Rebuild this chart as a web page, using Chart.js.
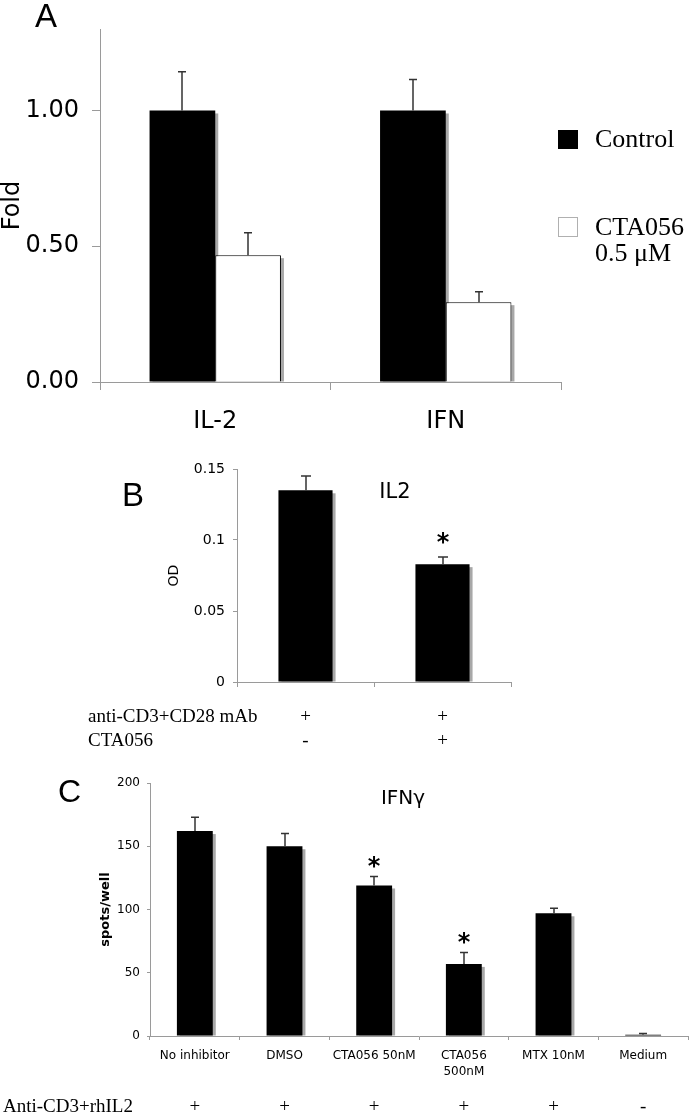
<!DOCTYPE html>
<html>
<head>
<meta charset="utf-8">
<script src="https://cdn.jsdelivr.net/npm/chart.js@4.4.0/dist/chart.umd.min.js"></script>
<style>
  body { margin: 0; background: #fff; }
  #wrap { position: relative; width: 689px; height: 1115px; overflow: hidden; background: #fff; }
  canvas { position: absolute; left: 0; }
</style>
</head>
<body>
<div id="wrap">
  <canvas id="chartA" width="689" height="440" style="top:0px"></canvas>
  <canvas id="chartB" width="689" height="320" style="top:440px"></canvas>
  <canvas id="chartC" width="689" height="355" style="top:760px"></canvas>
</div>
<script>
// --- panel A: fold change
const aLabels = ['IL-2', 'IFN'];
const aControl = [1.00, 1.00];
const aControlErr = [0.143, 0.114];
const aCta = [0.467, 0.294];
const aCtaErr = [0.083, 0.038];
const aTicks = [0, 0.5, 1.0];

// --- panel B: IL2 OD
const bRowAnti = ['+', '+'];
const bRowCta = ['-', '+'];
const bValues = [0.135, 0.083];
const bErr = [0.010, 0.005];
const bStars = [false, true];
const bTicks = [0, 0.05, 0.1, 0.15];

// --- panel C: IFN-gamma spots
const cLabels = ['No inhibitor', 'DMSO', 'CTA056 50nM', ['CTA056', '500nM'], 'MTX 10nM', 'Medium'];
const cRowAnti = ['+', '+', '+', '+', '+', '-'];
const cValues = [162, 150, 119, 57, 97, 1];
const cErr = [11, 10, 7, 9, 4, 1];
const cStars = [false, false, true, true, false, false];
const cTicks = [0, 50, 100, 150, 200];

const SANS = "'DejaVu Sans', sans-serif";
const ARIAL = "'Liberation Sans', Arial, sans-serif";
const SERIF = "'Liberation Serif', 'Times New Roman', serif";
const AXIS = '#9a9a9a';

// grey drop shadow behind each bar
const shadowPlugin = {
  id: 'shadow',
  beforeDatasetsDraw(chart) {
    const ctx = chart.ctx;
    ctx.save();
    ctx.fillStyle = '#a8a8a8';
    chart.data.datasets.forEach((ds, i) => {
      chart.getDatasetMeta(i).data.forEach(bar => {
        const p = bar.getProps(['x', 'y', 'base', 'width'], true);
        const h = p.base - p.y - 3;
        if (h > 0) ctx.fillRect(p.x - p.width / 2 + 3, p.y + 3, p.width, h);
      });
    });
    ctx.restore();
  }
};

// upper error bars + significance stars
const errorPlugin = {
  id: 'errorBars',
  afterDatasetsDraw(chart, args, opts) {
    const ctx = chart.ctx;
    const y = chart.scales.y;
    ctx.save();
    ctx.strokeStyle = '#333';
    ctx.lineWidth = 1.5;
    chart.data.datasets.forEach((ds, i) => {
      chart.getDatasetMeta(i).data.forEach((bar, j) => {
        const top = y.getPixelForValue(ds.data[j] + ds.errors[j]);
        const x = Math.round(bar.x);
        ctx.beginPath();
        ctx.moveTo(x, bar.y);
        ctx.lineTo(x, top);
        ctx.moveTo(x - opts.cap / 2, top);
        ctx.lineTo(x + opts.cap / 2, top);
        ctx.stroke();
        if (ds.stars && ds.stars[j]) {
          ctx.fillStyle = '#000';
          ctx.font = 'bold 24px ' + SANS;
          ctx.textAlign = 'center';
          ctx.textBaseline = 'alphabetic';
          ctx.fillText('*', x, top - opts.starGap + 13);
        }
      });
    });
    ctx.restore();
  }
};

// free text / legend boxes, page coordinates shifted by the canvas top
const notesPlugin = {
  id: 'notes',
  afterDraw(chart, args, opts) {
    const ctx = chart.ctx;
    const dy = opts.top || 0;
    ctx.save();
    (opts.items || []).forEach(it => {
      if (it.box) {
        ctx.fillStyle = it.fill;
        ctx.fillRect(it.box[0], it.box[1] - dy, it.box[2], it.box[3]);
        if (it.stroke) {
          ctx.strokeStyle = it.stroke;
          ctx.lineWidth = 1;
          ctx.strokeRect(it.box[0] + 0.5, it.box[1] - dy + 0.5, it.box[2] - 1, it.box[3] - 1);
        }
        return;
      }
      ctx.fillStyle = '#000';
      ctx.font = it.font;
      ctx.textAlign = it.align || 'left';
      ctx.textBaseline = it.base || 'alphabetic';
      ctx.fillText(it.text, it.x, it.y - dy);
    });
    if (opts.row) {
      const xs = chart.scales.x;
      ctx.font = opts.row.font;
      ctx.textAlign = 'center';
      ctx.textBaseline = 'middle';
      opts.row.signs.forEach((s, i) => ctx.fillText(s, xs.getPixelForValue(i), opts.row.y - dy));
    }
    ctx.restore();
  }
};

function noPad(s) { s.paddingTop = 0; s.paddingBottom = 0; s.paddingLeft = 0; s.paddingRight = 0; }

function yAxis(max, ticks, o) {
  return {
    min: 0, max: max,
    afterBuildTicks: s => { s.ticks = ticks.map(v => ({ value: v })); },
    grid: { drawOnChartArea: false, color: AXIS, tickLength: o.tick },
    border: { color: AXIS },
    ticks: { color: '#000', font: { family: SANS, size: o.size }, padding: o.pad, callback: o.fmt },
    title: { display: true, text: o.title, color: '#000', padding: 0, font: o.titleFont },
    afterFit: s => { s.width = o.width; noPad(s); }
  };
}

function xAxis(o) {
  return {
    grid: { offset: true, drawOnChartArea: false, color: AXIS, tickLength: o.tick },
    border: { color: AXIS },
    ticks: { color: '#000', font: o.font, padding: o.pad, autoSkip: false, maxRotation: 0, display: o.show !== false },
    afterFit: s => { s.height = o.height; noPad(s); }
  };
}

Chart.defaults.animation = false;

new Chart(document.getElementById('chartA'), {
  type: 'bar',
  data: {
    labels: aLabels,
    datasets: [
      { label: 'Control', data: aControl, errors: aControlErr, backgroundColor: '#000', borderWidth: 0 },
      { label: 'CTA056 0.5 μM', data: aCta, errors: aCtaErr, backgroundColor: '#fff', borderColor: '#000',
        borderWidth: { top: 1, left: 1, right: 1, bottom: 0 } }
    ]
  },
  options: {
    responsive: false,
    barPercentage: 1,
    categoryPercentage: 0.57,
    layout: { padding: { left: 0, top: 29, right: 128, bottom: 0 } },
    scales: {
      x: xAxis({ tick: 8, pad: 17, height: 58, font: { family: SANS, size: 24 } }),
      y: yAxis(1.3, aTicks, { tick: 8, size: 24, pad: 13, width: 100, title: 'Fold',
        titleFont: { family: SANS, size: 24, lineHeight: 1.1 }, fmt: v => v.toFixed(2) })
    },
    plugins: {
      legend: { display: false },
      tooltip: { enabled: false },
      errorBars: { cap: 8, starGap: 18 },
      notes: {
        top: 0,
        items: [
          { text: 'A', x: 35, y: 27, font: '33px ' + ARIAL },
          { box: [558, 130, 20, 19], fill: '#000' },
          { text: 'Control', x: 595, y: 147, font: '26px ' + SERIF },
          { box: [558, 217, 20, 20], fill: '#fff', stroke: '#b0b0b0' },
          { text: 'CTA056', x: 595, y: 235, font: '26px ' + SERIF },
          { text: '0.5 μM', x: 595, y: 261, font: '26px ' + SERIF }
        ]
      }
    }
  },
  plugins: [shadowPlugin, errorPlugin, notesPlugin]
});

new Chart(document.getElementById('chartB'), {
  type: 'bar',
  data: {
    labels: bRowAnti.map((s, i) => [s, bRowCta[i]]),
    datasets: [
      { label: 'IL2', data: bValues, errors: bErr, stars: bStars, backgroundColor: '#000', borderWidth: 0 }
    ]
  },
  options: {
    responsive: false,
    barPercentage: 0.395,
    categoryPercentage: 1,
    layout: { padding: { left: 166, top: 29, right: 178, bottom: 0 } },
    scales: {
      x: xAxis({ tick: 5, pad: 18, height: 78, font: { family: SERIF, size: 19, lineHeight: 24 / 19 } }),
      y: yAxis(0.15, bTicks, { tick: 4, size: 14, pad: 8, width: 71, title: 'OD',
        titleFont: { family: SANS, size: 14, lineHeight: 1.2 }, fmt: v => String(v) })
    },
    plugins: {
      legend: { display: false },
      tooltip: { enabled: false },
      errorBars: { cap: 10, starGap: 20 },
      notes: {
        top: 440,
        items: [
          { text: 'B', x: 122, y: 506, font: '33px ' + ARIAL },
          { text: 'IL2', x: 395, y: 498, font: '21px ' + SANS, align: 'center' },
          { text: 'anti-CD3+CD28 mAb', x: 88, y: 717, font: '19px ' + SERIF, base: 'middle' },
          { text: 'CTA056', x: 88, y: 741, font: '19px ' + SERIF, base: 'middle' }
        ]
      }
    }
  },
  plugins: [shadowPlugin, errorPlugin, notesPlugin]
});

new Chart(document.getElementById('chartC'), {
  type: 'bar',
  data: {
    labels: cLabels,
    datasets: [
      { label: 'IFNγ', data: cValues, errors: cErr, stars: cStars, backgroundColor: '#000', borderWidth: 0 }
    ]
  },
  options: {
    responsive: false,
    barPercentage: 0.4,
    categoryPercentage: 1,
    layout: { padding: { left: 98, top: 23, right: 1, bottom: 0 } },
    scales: {
      x: xAxis({ tick: 4, pad: 7, height: 79, font: { family: SANS, size: 12, lineHeight: 1.4 } }),
      y: yAxis(200, cTicks, { tick: 3, size: 12, pad: 7, width: 52, title: 'spots/well',
        titleFont: { family: SANS, size: 13, weight: 'bold', lineHeight: 1.2 }, fmt: v => String(v) })
    },
    plugins: {
      legend: { display: false },
      tooltip: { enabled: false },
      errorBars: { cap: 8, starGap: 16 },
      notes: {
        top: 760,
        items: [
          { text: 'C', x: 58, y: 802, font: '32px ' + ARIAL },
          { text: 'IFNγ', x: 403, y: 804, font: '20px ' + SANS, align: 'center' },
          { text: 'Anti-CD3+rhIL2', x: 3, y: 1107, font: '19px ' + SERIF, base: 'middle' }
        ],
        row: { signs: cRowAnti, y: 1107, font: '19px ' + SERIF }
      }
    }
  },
  plugins: [shadowPlugin, errorPlugin, notesPlugin]
});
</script>
</body>
</html>
